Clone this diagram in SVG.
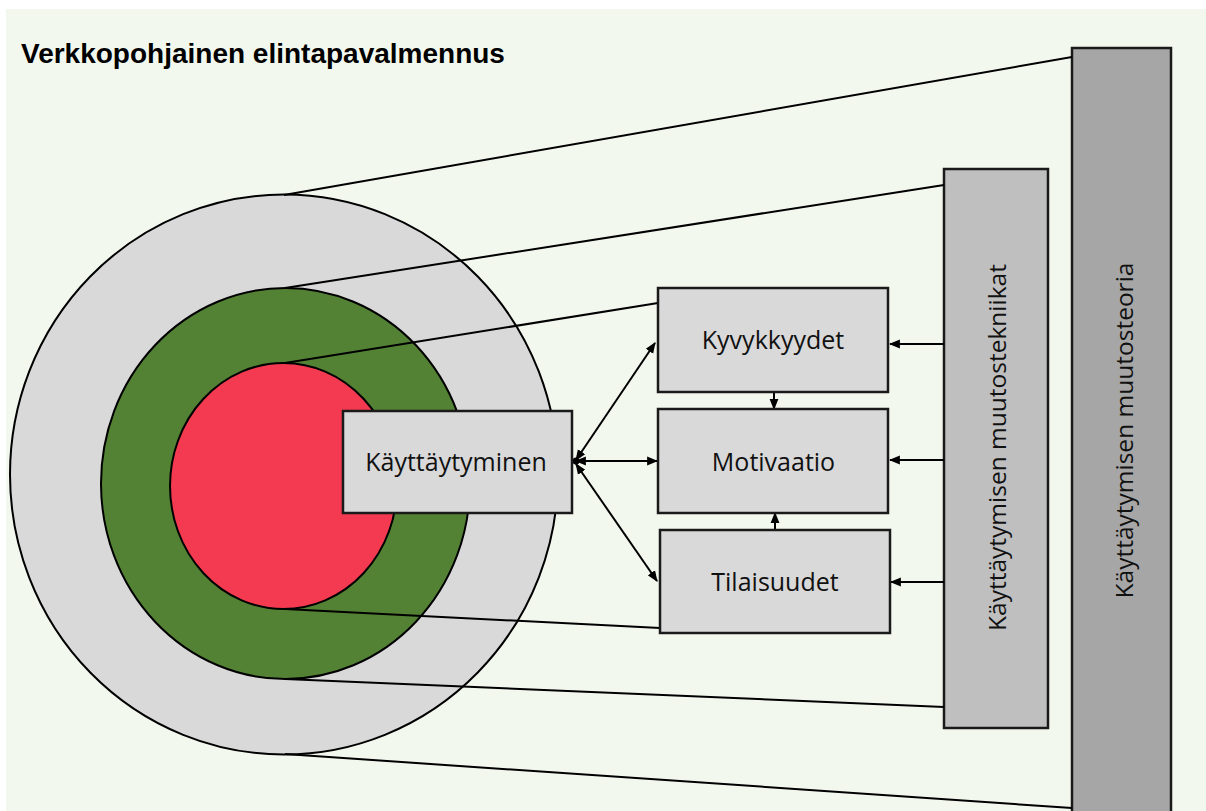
<svg xmlns="http://www.w3.org/2000/svg" width="1206" height="811" viewBox="0 0 1206 811">
<defs>
<style>
.bg{fill:#f3f8ef}
.ln{stroke:#000;stroke-width:2;fill:none}
.ring{stroke:#000;stroke-width:2}
.box{fill:#d9d9d9;stroke:#1a1a1a;stroke-width:2.5}
.lbl{font-family:"Open Sans","Noto Sans",sans-serif;font-size:25px;fill:#111;text-anchor:middle}
.vlbl{font-family:"Open Sans","Noto Sans",sans-serif;font-size:24.5px;fill:#111;text-anchor:middle}
.arr{stroke:#000;stroke-width:2;fill:none}
</style>
<marker id="ah" viewBox="0 0 10 10" refX="9" refY="5" markerWidth="11" markerHeight="11" markerUnits="userSpaceOnUse" orient="auto-start-reverse">
<path d="M0,1 L10,5 L0,9 z" fill="#000"/>
</marker>
</defs>
<rect width="1206" height="811" fill="#ffffff"/>
<rect class="bg" x="6" y="9" width="1200" height="802"/>
<text x="21" y="63" font-family="'Liberation Sans',Arial,sans-serif" font-weight="bold" font-size="28" fill="#000">Verkkopohjainen elintapavalmennus</text>

<g id="circles">
<ellipse id="outer-ring" class="ring" cx="284" cy="474.5" rx="274" ry="280" fill="#d9d9d9"/>
<ellipse id="green-ring" class="ring" cx="285.5" cy="483.5" rx="184.5" ry="195.5" fill="#548235"/>
<ellipse id="red-core" class="ring" cx="283.5" cy="486" rx="113.5" ry="123" fill="#f33a50"/>
</g>

<g id="bars">
<g id="teoria">
<rect x="1072" y="48" width="99" height="800" fill="#a6a6a6" stroke="#1a1a1a" stroke-width="2.5"/>
<text class="vlbl" transform="translate(1133,430.5) rotate(-90)">Käyttäytymisen muutosteoria</text>
</g>
<g id="tekniikat">
<rect x="944" y="169" width="104" height="559" fill="#bfbfbf" stroke="#1a1a1a" stroke-width="2.5"/>
<text class="vlbl" transform="translate(1006,447.5) rotate(-90)">Käyttäytymisen muutostekniikat</text>
</g>
</g>

<g id="connectors">
<line class="ln" x1="284" y1="195" x2="1072" y2="57"/>
<line class="ln" x1="285" y1="288" x2="944" y2="185"/>
<line class="ln" x1="285" y1="363" x2="658" y2="303"/>
<line class="ln" x1="285" y1="609" x2="660" y2="628"/>
<line class="ln" x1="285" y1="679" x2="944" y2="707"/>
<line class="ln" x1="285" y1="754" x2="1072" y2="808"/>
<line class="arr" x1="576" y1="460" x2="655" y2="343" marker-start="url(#ah)" marker-end="url(#ah)"/>
<line class="arr" x1="576" y1="461" x2="657" y2="461" marker-start="url(#ah)" marker-end="url(#ah)"/>
<line class="arr" x1="576" y1="464" x2="657" y2="581" marker-start="url(#ah)" marker-end="url(#ah)"/>
<circle cx="576" cy="461" r="3.5" fill="#000"/>
<line class="arr" x1="944" y1="344" x2="890" y2="344" marker-end="url(#ah)"/>
<line class="arr" x1="944" y1="460" x2="890" y2="460" marker-end="url(#ah)"/>
<line class="arr" x1="944" y1="582" x2="891" y2="582" marker-end="url(#ah)"/>
<line class="arr" x1="774" y1="392" x2="774" y2="409" marker-end="url(#ah)"/>
<line class="arr" x1="775" y1="530" x2="775" y2="513" marker-end="url(#ah)"/>
</g>

<g id="kayttaytyminen">
<rect class="box" x="343" y="411" width="229" height="102"/>
<text class="lbl" x="456" y="471">Käyttäytyminen</text>
</g>
<g id="kyvykkyydet">
<rect class="box" x="658" y="288" width="230" height="104"/>
<text class="lbl" x="773" y="349">Kyvykkyydet</text>
</g>
<g id="motivaatio">
<rect class="box" x="658" y="409" width="230" height="104"/>
<text class="lbl" x="773.5" y="471">Motivaatio</text>
</g>
<g id="tilaisuudet">
<rect class="box" x="660" y="530" width="230" height="103"/>
<text class="lbl" x="775" y="591">Tilaisuudet</text>
</g>
</svg>
